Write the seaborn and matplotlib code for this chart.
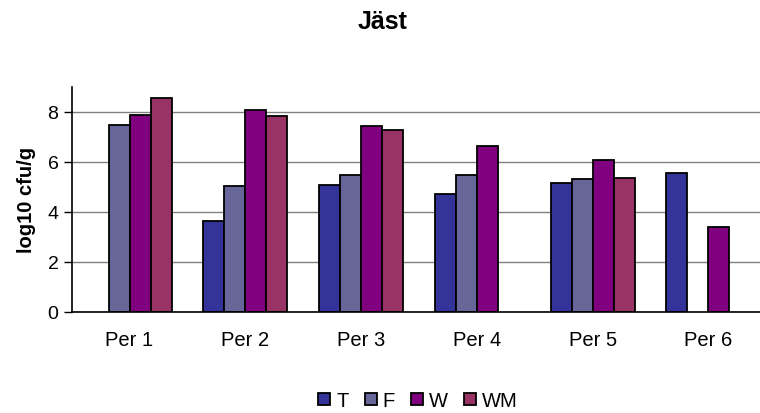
import seaborn as sns
import matplotlib.pyplot as plt
import pandas as pd
import numpy as np

# values (NaN = no bar)
periods = ["Per 1", "Per 2", "Per 3", "Per 4", "Per 5", "Per 6"]
series = ["T", "F", "W", "WM"]
t_vals = [np.nan, 3.63, 5.08, 4.70, 5.15, 5.55]
f_vals = [7.48, 5.03, 5.48, 5.48, 5.30, np.nan]
w_vals = [7.88, 8.07, 7.42, 6.62, 6.08, 3.38]
wm_vals = [8.54, 7.82, 7.28, np.nan, 5.35, np.nan]
colors = ["#333399", "#666699", "#800080", "#993366"]

rows = []
for name, vals in zip(series, [t_vals, f_vals, w_vals, wm_vals]):
    for p, v in zip(periods, vals):
        rows.append({"period": p, "series": name, "value": v})
df = pd.DataFrame(rows)

sns.set_style("white")
plt.rcParams['font.family'] = ['Liberation Sans', 'DejaVu Sans']
plt.rcParams.update({"text.color": "black", "axes.labelcolor": "black",
                     "xtick.color": "black", "ytick.color": "black"})

fig = plt.figure(figsize=(7.6, 4.14), dpi=100)
ax = fig.add_axes([0.0943, 0.2447, 0.914, 0.5433])
ax.set_axisbelow(True)
ax.yaxis.grid(True, color="#808080", linewidth=1)

sns.barplot(data=df, x="period", y="value", hue="series", hue_order=series,
            order=periods, palette=colors, width=0.725, gap=0,
            edgecolor="black", linewidth=1.3, saturation=1, ax=ax, legend=True)

ax.set_xlim(-0.5, 5.5)
ax.set_ylim(0, 9)
ax.set_yticks([0, 2, 4, 6, 8])
ax.set_xticks(np.arange(-0.5, 6.0, 1.0), minor=True)
ax.tick_params(axis="x", which="major", length=0, labelsize=14.5, pad=13)
ax.tick_params(axis="x", which="minor", length=6, width=1, direction="out", color="black")
ax.tick_params(axis="y", length=6, width=1, direction="out", color="black", labelsize=14, left=True)
for s in ["top", "right"]:
    ax.spines[s].set_visible(False)
for s in ["left", "bottom"]:
    ax.spines[s].set_color("black")
    ax.spines[s].set_linewidth(1.2)

ax.set_xlabel("")
ax.set_ylabel("log10 cfu/g", fontsize=14.5, fontweight="bold", labelpad=8)
fig.suptitle("Jäst", x=0.503, y=0.975, fontsize=18, fontweight="bold")

handles, labels = ax.get_legend_handles_labels()
ax.legend(handles, labels, loc="center", bbox_to_anchor=(0.55, 0.03),
          bbox_transform=fig.transFigure, ncol=4, frameon=False, fontsize=14.5,
          handlelength=0.6, handleheight=0.6, handletextpad=0.3, columnspacing=0.8)

fig.savefig("out.png", dpi=100)
